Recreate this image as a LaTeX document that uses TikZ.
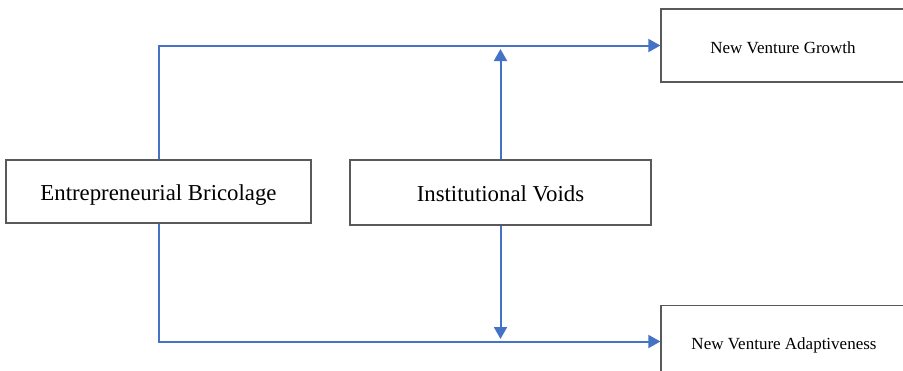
\documentclass[tikz,border=0pt]{standalone}
\usepackage{fontspec}
\setmainfont{Liberation Serif}
\usetikzlibrary{arrows.meta}
\definecolor{lineblue}{HTML}{4472C4}
\definecolor{boxgray}{HTML}{595959}
\tikzset{
  box/.style={draw=boxgray, line width=1.3pt, fill=white, inner sep=0pt, anchor=center},
  bigbox/.style={box, font=\fontsize{22.8}{26}\selectfont, text height=19pt, text depth=1pt},
  smallbox/.style={box, font=\fontsize{17}{20}\selectfont, text height=16pt, text depth=0.4pt},
  link/.style={draw=lineblue, line width=2pt, -{Triangle[length=12pt,width=13pt]}}
}
\begin{document}
\begin{tikzpicture}[x=1pt,y=-1pt]
\useasboundingbox (0,0) rectangle (903,370);
\node[bigbox, minimum width=305pt, minimum height=63pt] (eb) at (158.5,191.5) {Entrepreneurial Bricolage};
\node[bigbox, minimum width=301pt, minimum height=65pt] (iv) at (500.5,192.5) {Institutional Voids};
\node[smallbox, minimum width=244pt, minimum height=73pt] (nvg) at (783,45.5) {New Venture Growth};
\node[smallbox, minimum width=246pt, minimum height=72pt] (nva) at (784,341.5) {New Venture Adaptiveness};
\coordinate (uptip) at (500.5,49);
\coordinate (downtip) at (500.5,339);
\draw[link] (eb.north) |- (nvg.west);
\draw[link] (eb.south) |- (nva.west);
\draw[link] (iv.north) -- (uptip);
\draw[link] (iv.south) -- (downtip);
\end{tikzpicture}
\end{document}
